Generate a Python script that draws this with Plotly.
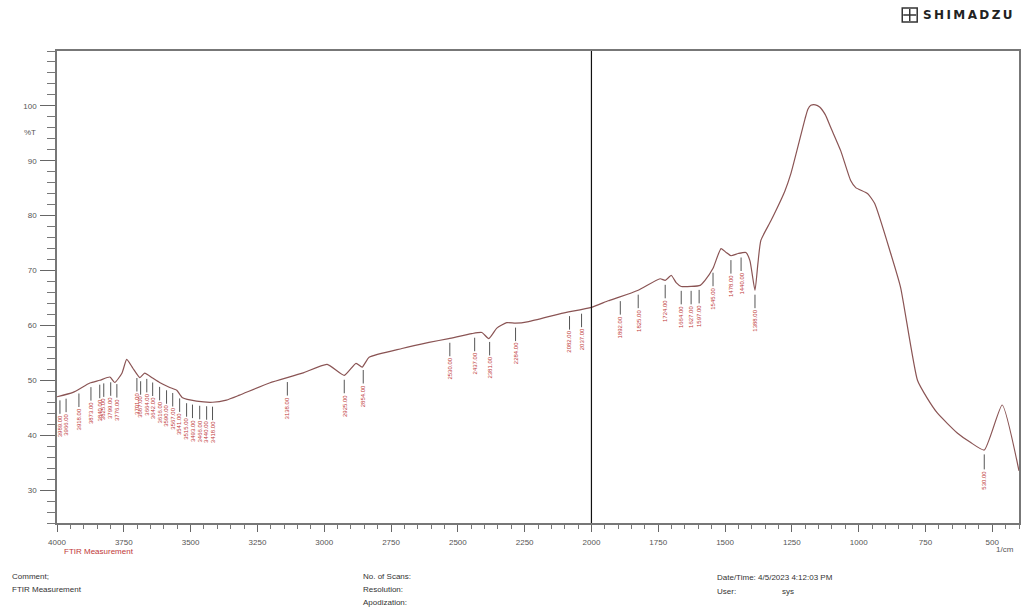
import numpy as np
import plotly.graph_objects as go

# FTIR transmittance spectrum (wavenumber in 1/cm, transmittance in %T)
wavenumber = [4000, 3940, 3877, 3840, 3802, 3784, 3757, 3739, 3716, 3690, 3672, 3642,
              3616, 3578, 3552, 3530, 3478, 3418, 3366, 3317, 3205, 3082, 2989, 2925,
              2881, 2858, 2832, 2709, 2608, 2534, 2448, 2410, 2384, 2354, 2317, 2284,
              2235, 2112, 2000, 1937, 1899, 1825, 1743, 1724, 1701, 1683, 1664, 1627,
              1593, 1575, 1545, 1515, 1496, 1478, 1451, 1422, 1407, 1388, 1377, 1366,
              1328, 1276, 1254, 1201, 1190, 1179, 1162, 1146, 1125, 1104, 1067, 1030,
              1011, 966, 940, 880, 843, 780, 743, 705, 631, 582, 530, 463, 400]
transmittance = [47.0, 47.8, 49.5, 50.0, 50.6, 49.6, 51.3, 53.8, 52.2, 50.5, 51.3, 50.4,
                 49.6, 48.7, 48.2, 46.8, 46.2, 46.0, 46.4, 47.3, 49.5, 51.3, 52.9, 50.9,
                 53.1, 52.4, 54.2, 55.8, 56.9, 57.6, 58.5, 58.7, 57.6, 59.5, 60.5, 60.4,
                 60.7, 62.2, 63.3, 64.5, 65.1, 66.4, 68.5, 68.2, 69.1, 67.8, 67.1, 67.1,
                 67.3, 68.2, 70.4, 74.0, 73.3, 72.7, 73.1, 73.3, 71.8, 66.4, 71.3, 75.5,
                 79.1, 84.5, 87.6, 97.6, 99.4, 100.1, 100.2, 99.8, 98.4, 96.0, 91.8, 86.4,
                 85.1, 84.0, 82.2, 73.1, 66.9, 50.0, 46.7, 44.0, 40.4, 38.7, 37.3, 45.5, 33.5]

# Picked peak positions (1/cm)
peaks = [3989, 3966, 3918, 3873, 3840, 3825, 3799, 3776, 3701, 3687, 3664, 3642,
         3616, 3590, 3567, 3541, 3515, 3493, 3466, 3440, 3418, 3138, 2925, 2854,
         2530, 2437, 2381, 2284, 2082, 2037, 1892, 1825, 1724, 1664, 1627, 1597,
         1545, 1478, 1440, 1388, 530]

x_ticks = [4000, 3750, 3500, 3250, 3000, 2750, 2500, 2250, 2000, 1750, 1500, 1250, 1000, 750, 500]
y_ticks = [30, 40, 50, 60, 70, 80, 90, 100]
cursor_wn = 2000

X_RANGE = [4000, 400]
Y_RANGE = [24, 110]

# Page geometry (pixels) of the plotting frame
W, H = 1023, 616
L, R, T, B = 57, 1021, 51, 523


def px_x(px):
    return (px - L) / (R - L)


def px_y(py):
    return (B - py) / (B - T)


fig = go.Figure()
fig.add_trace(go.Scatter(
    x=wavenumber, y=transmittance, mode="lines",
    line=dict(color="#8a5454", width=1.2, shape="spline", smoothing=0.5),
    hoverinfo="skip", showlegend=False,
))

# Peak labels: short leader line below the trough, value written vertically
wn_asc = np.array(wavenumber[::-1], dtype=float)
t_asc = np.array(transmittance[::-1], dtype=float)
annotations = []
for p in peaks:
    t_here = float(np.interp(p, wn_asc, t_asc))
    annotations.append(dict(
        x=p, y=t_here - 0.8, xref="x", yref="y",
        text=f"{p:.2f}", textangle=-90,
        font=dict(size=6, color="#c03838", family="Liberation Sans"),
        showarrow=True, arrowhead=0, arrowwidth=1, arrowcolor="#555555",
        ax=0, ay=26, standoff=0, startstandoff=0,
    ))

txt = dict(family="Liberation Sans", size=8, color="#333333")
annotations += [
    dict(x=px_x(22), y=px_y(132), xref="paper", yref="paper", text="%T",
         showarrow=False, xanchor="left", yanchor="middle",
         font=dict(family="Liberation Sans", size=8, color="#555555")),
    dict(x=px_x(1018), y=px_y(549), xref="paper", yref="paper", text="1/cm",
         showarrow=False, xanchor="right", yanchor="middle",
         font=dict(family="Liberation Sans", size=8, color="#555555")),
    dict(x=px_x(62), y=px_y(551), xref="paper", yref="paper", text="FTIR Measurement",
         showarrow=False, xanchor="left", yanchor="middle",
         font=dict(family="Liberation Sans", size=8, color="#c03838")),
    dict(x=px_x(10), y=px_y(576), xref="paper", yref="paper", text="Comment;",
         showarrow=False, xanchor="left", yanchor="middle", font=txt),
    dict(x=px_x(10), y=px_y(589), xref="paper", yref="paper", text="FTIR Measurement",
         showarrow=False, xanchor="left", yanchor="middle", font=txt),
    dict(x=px_x(362), y=px_y(576), xref="paper", yref="paper", text="No. of Scans:",
         showarrow=False, xanchor="left", yanchor="middle", font=txt),
    dict(x=px_x(362), y=px_y(589), xref="paper", yref="paper", text="Resolution:",
         showarrow=False, xanchor="left", yanchor="middle", font=txt),
    dict(x=px_x(362), y=px_y(602), xref="paper", yref="paper", text="Apodization:",
         showarrow=False, xanchor="left", yanchor="middle", font=txt),
    dict(x=px_x(716), y=px_y(577), xref="paper", yref="paper",
         text="Date/Time: 4/5/2023 4:12:03 PM",
         showarrow=False, xanchor="left", yanchor="middle", font=txt),
    dict(x=px_x(716), y=px_y(591), xref="paper", yref="paper", text="User:",
         showarrow=False, xanchor="left", yanchor="middle", font=txt),
    dict(x=px_x(782), y=px_y(591), xref="paper", yref="paper", text="sys",
         showarrow=False, xanchor="left", yanchor="middle", font=txt),
    dict(x=px_x(923), y=px_y(15), xref="paper", yref="paper",
         text="<b>S\u2009H\u2009I\u2009M\u2009A\u2009D\u2009Z\u2009U</b>",
         showarrow=False, xanchor="left", yanchor="middle",
         font=dict(family="DejaVu Sans", size=12, color="#222222")),
]

shapes = [
    # cursor line
    dict(type="line", xref="x", yref="paper", x0=cursor_wn, x1=cursor_wn, y0=0, y1=1,
         line=dict(color="#111111", width=1.2)),
    # logo mark
    dict(type="rect", xref="paper", yref="paper",
         x0=px_x(904), x1=px_x(919), y0=px_y(22), y1=px_y(8),
         line=dict(color="#333333", width=1.5), fillcolor="#ffffff"),
    dict(type="line", xref="paper", yref="paper",
         x0=px_x(911.5), x1=px_x(911.5), y0=px_y(21), y1=px_y(9),
         line=dict(color="#333333", width=1.5)),
    dict(type="line", xref="paper", yref="paper",
         x0=px_x(905), x1=px_x(918), y0=px_y(15), y1=px_y(15),
         line=dict(color="#333333", width=1.5)),
]

axis_font = dict(family="Liberation Sans", size=8, color="#555555")
fig.update_layout(
    width=W, height=H, autosize=False,
    margin=dict(l=L, r=W - R, t=T, b=H - B, pad=0),
    paper_bgcolor="white", plot_bgcolor="white",
    showlegend=False,
    annotations=annotations, shapes=shapes,
    xaxis=dict(
        range=X_RANGE, tickvals=x_ticks, ticktext=[str(v) for v in x_ticks],
        ticks="outside", ticklen=7, tickwidth=1, tickcolor="#666666",
        minor=dict(dtick=50, tick0=0, ticks="outside", ticklen=4, tickcolor="#777777", showgrid=False),
        showgrid=False, zeroline=False,
        showline=True, linecolor="#777777", linewidth=1.5, mirror=True,
        tickfont=axis_font, ticklabelstandoff=4,
    ),
    yaxis=dict(
        range=Y_RANGE, tickvals=y_ticks, ticktext=[str(v) for v in y_ticks],
        ticks="outside", ticklen=15, tickwidth=1, tickcolor="#666666",
        minor=dict(dtick=2, tick0=0, ticks="outside", ticklen=8, tickcolor="#777777", showgrid=False),
        showgrid=False, zeroline=False,
        showline=True, linecolor="#777777", linewidth=1.5, mirror=True,
        tickfont=axis_font, ticklabelstandoff=2,
    ),
)

fig.write_html("out.html")
